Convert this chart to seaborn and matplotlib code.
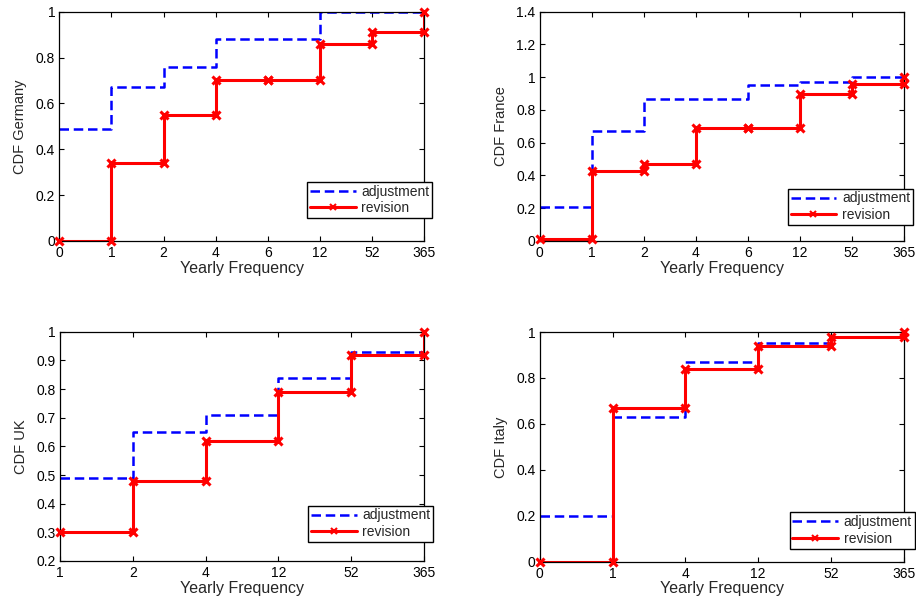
import matplotlib
matplotlib.use("Agg")
import matplotlib.pyplot as plt
import pandas as pd
import seaborn as sns
from matplotlib.lines import Line2D
from matplotlib.ticker import FormatStrFormatter

sns.set_style("ticks")
plt.rcParams["font.family"] = ["Liberation Sans", "DejaVu Sans"]

# Yearly frequency categories per country
freq_de = ["0", "1", "2", "4", "6", "12", "52", "365"]
freq_fr = ["0", "1", "2", "4", "6", "12", "52", "365"]
freq_uk = ["1", "2", "4", "12", "52", "365"]
freq_it = ["0", "1", "4", "12", "52", "365"]

# Cumulative shares: adjustment vs. revision
adj_de = [0.49, 0.67, 0.76, 0.88, 0.88, 1.00, 1.00, 1.00]
rev_de = [0.00, 0.34, 0.55, 0.70, 0.70, 0.86, 0.91, 1.00]

adj_fr = [0.21, 0.67, 0.87, 0.87, 0.95, 0.97, 1.00, 1.00]
rev_fr = [0.01, 0.43, 0.47, 0.69, 0.69, 0.90, 0.96, 1.00]

adj_uk = [0.49, 0.65, 0.71, 0.84, 0.93, 0.93]
rev_uk = [0.30, 0.48, 0.62, 0.79, 0.92, 1.00]

adj_it = [0.20, 0.63, 0.87, 0.95, 0.98, 0.98]
rev_it = [0.00, 0.67, 0.84, 0.94, 0.98, 1.00]

ylims = {"Germany": (0, 1), "France": (0, 1.4), "UK": (0.2, 1), "Italy": (0, 1)}
ysteps = {"Germany": 0.2, "France": 0.2, "UK": 0.1, "Italy": 0.2}

panels = [
    ("Germany", freq_de, adj_de, rev_de, [59.3 / 916, 1 - 241 / 597, 364.7 / 916, 229.3 / 597], (1.022, 0.10)),
    ("France", freq_fr, adj_fr, rev_fr, [539.7 / 916, 1 - 241 / 597, 364 / 916, 229.3 / 597], (1.025, 0.07)),
    ("UK", freq_uk, adj_uk, rev_uk, [60 / 916, 1 - 561 / 597, 364 / 916, 229.3 / 597], (1.025, 0.083)),
    ("Italy", freq_it, adj_it, rev_it, [539.7 / 916, 1 - 561.7 / 597, 364 / 916, 229.7 / 597], (1.03, 0.057)),
]

BLUE = "#0000ff"
RED = "#ff0000"

fig = plt.figure(figsize=(9.16, 5.97), dpi=100)

for name, freq, adj, rev, rect, anchor in panels:
    ax = fig.add_axes(rect)
    pos = list(range(len(freq)))
    df = pd.DataFrame({"pos": pos, "adjustment": adj, "revision": rev})

    sns.lineplot(data=df, x="pos", y="adjustment", ax=ax, estimator=None, sort=False,
                 drawstyle="steps-post", color=BLUE, linewidth=1.8,
                 linestyle=(0, (3.8, 1.9)))
    sns.lineplot(data=df, x="pos", y="revision", ax=ax, estimator=None, sort=False,
                 drawstyle="steps-post", color=RED, linewidth=2.2)

    # markers at both corners of every step of the revision series
    cx = pos + pos[1:]
    cy = list(rev) + list(rev[:-1])
    ax.plot(cx, cy, linestyle="none", marker="x", markersize=5.5,
            markeredgewidth=2.2, color=RED, clip_on=False, zorder=4)

    ax.set_xlim(0, len(freq) - 1)
    lo, hi = ylims[name]
    ax.set_ylim(lo, hi)
    step = ysteps[name]
    nt = int(round((hi - lo) / step)) + 1
    ax.set_yticks([lo + i * step for i in range(nt)])
    ax.yaxis.set_major_formatter(FormatStrFormatter("%g"))
    ax.set_xticks(pos)
    ax.set_xticklabels(freq)

    ax.tick_params(direction="in", top=True, right=True, length=3.5, width=0.8,
                   labelsize=10, colors="black")
    ax.tick_params(axis="x", pad=3.5)
    ax.tick_params(axis="y", pad=3)
    for sp in ax.spines.values():
        sp.set_visible(True)
        sp.set_linewidth(0.9)
        sp.set_color("black")

    ax.set_xlabel("Yearly Frequency", fontsize=11.5, labelpad=0.5)
    ax.set_ylabel(f"CDF {name}", fontsize=10.5, labelpad=6)

    handles = [
        Line2D([], [], color=BLUE, linewidth=1.8, linestyle=(0, (3.8, 1.9))),
        Line2D([], [], color=RED, linewidth=2.2, marker="x", markersize=4,
               markeredgewidth=1.5),
    ]
    leg = ax.legend(handles, ["adjustment", "revision"], loc="lower right",
                    bbox_to_anchor=anchor, frameon=True, fancybox=False,
                    edgecolor="black", framealpha=1, fontsize=10,
                    handlelength=3.3, handletextpad=0.4, labelspacing=0.2,
                    borderpad=0.2, borderaxespad=0, numpoints=1)
    leg.get_frame().set_linewidth(1.0)

fig.savefig("out.png", dpi=100)
